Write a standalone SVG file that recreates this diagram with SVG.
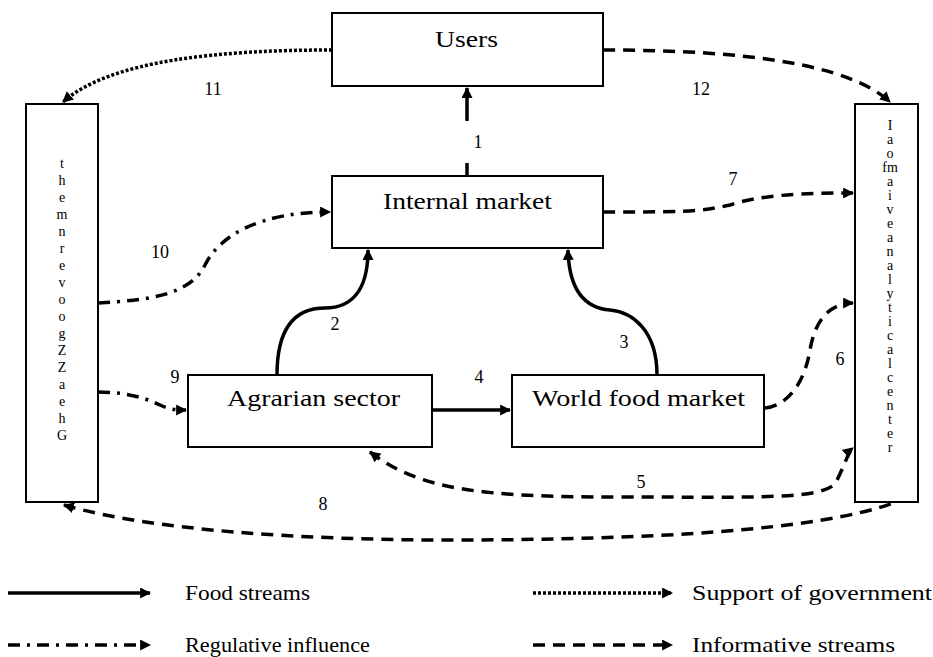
<svg xmlns="http://www.w3.org/2000/svg" width="933" height="657" viewBox="0 0 933 657">
<style>
.box{fill:#fff;stroke:#000;stroke-width:2}
.lbl{font-family:"Liberation Serif","Times New Roman",serif;font-size:24px;fill:#000}
.num{font-family:"Liberation Serif","Times New Roman",serif;font-size:18px;fill:#000;text-anchor:middle}
.vt{font-family:"Liberation Serif","Times New Roman",serif;font-size:14px;fill:#000;text-anchor:middle}
.leg{font-family:"Liberation Serif","Times New Roman",serif;font-size:21px;fill:#000}
.c{fill:none;stroke:#000;stroke-width:3.5}
.food{}
.info{stroke-dasharray:12 8}
.reg{stroke-dasharray:12 7 3 7}
.supp{stroke-dasharray:3 2}
</style>
<defs>
<marker id="ah" viewBox="0 0 10 10" refX="9" refY="5" markerWidth="11" markerHeight="11" markerUnits="userSpaceOnUse" orient="auto-start-reverse">
<path d="M0,0 L10,5 L0,10 z" fill="#000"/>
</marker>
</defs>

<g id="connectors">
<path class="c food" d="M467,176 V163 M467,121 V88" marker-end="url(#ah)"/>
<path class="c food" d="M277,375 C277,322 300,308 325,308 C352,308 368,290 368,250" marker-end="url(#ah)"/>
<path class="c food" d="M657,375 C657,330 632,312 610,310 C585,308 569,290 568,250" marker-end="url(#ah)"/>
<path class="c food" d="M432,410 H510" marker-end="url(#ah)"/>
<path class="c info" d="M370,452 C420,490 480,497 620,497 C760,497 825,500 836,482 C845,465 848,452 853,448" marker-start="url(#ah)" marker-end="url(#ah)"/>
<path class="c info" d="M765,408 C790,405 805,380 810,350 C815,320 830,303 853,303" marker-end="url(#ah)"/>
<path class="c info" d="M603,212 C680,212 700,212 730,205 C760,195 800,193 853,193" marker-end="url(#ah)"/>
<path class="c info" d="M64,505 C150,530 300,540 450,540 C650,540 820,530 893,503" marker-start="url(#ah)"/>
<path class="c reg" d="M98,392 C130,392 150,400 160,405 C170,410 178,410 186,410" marker-end="url(#ah)"/>
<path class="c reg" d="M98,303 C150,300 190,295 205,265 C220,235 260,212 330,212" marker-end="url(#ah)"/>
<path class="c supp" d="M332,50 C220,50 110,60 63,102" marker-end="url(#ah)"/>
<path class="c info" d="M603,50 C750,50 850,65 890,102" marker-end="url(#ah)"/>
</g>

<g id="users">
<rect class="box" x="332" y="13" width="271" height="73"/>
<text class="lbl" x="435" y="47" textLength="63" lengthAdjust="spacingAndGlyphs">Users</text>
</g>
<g id="internal-market">
<rect class="box" x="332" y="176" width="271" height="72"/>
<text class="lbl" x="383" y="209" textLength="169" lengthAdjust="spacingAndGlyphs">Internal market</text>
</g>
<g id="agrarian-sector">
<rect class="box" x="188" y="375" width="244" height="72"/>
<text class="lbl" x="227" y="406" textLength="173" lengthAdjust="spacingAndGlyphs">Agrarian sector</text>
</g>
<g id="world-food-market">
<rect class="box" x="512" y="375" width="252" height="72"/>
<text class="lbl" x="532" y="406" textLength="213" lengthAdjust="spacingAndGlyphs">World food market</text>
</g>
<g id="government">
<rect class="box" x="26" y="104" width="72" height="398"/>
<text class="vt"><tspan x="62" y="168">t</tspan><tspan x="62" y="185">h</tspan><tspan x="62" y="202">e</tspan><tspan x="62" y="219">m</tspan><tspan x="62" y="236">n</tspan><tspan x="62" y="253">r</tspan><tspan x="62" y="270">e</tspan><tspan x="62" y="287">v</tspan><tspan x="62" y="304">o</tspan><tspan x="62" y="321">o</tspan><tspan x="62" y="338">g</tspan><tspan x="62" y="355">Z</tspan><tspan x="62" y="372">Z</tspan><tspan x="62" y="389">a</tspan><tspan x="62" y="406">e</tspan><tspan x="62" y="423">h</tspan><tspan x="62" y="440">G</tspan></text>
</g>
<g id="info-center">
<rect class="box" x="855" y="104" width="63" height="398"/>
<text class="vt"><tspan x="890" y="130">I</tspan><tspan x="890" y="144">a</tspan><tspan x="890" y="158">o</tspan><tspan x="890" y="172">fm</tspan><tspan x="890" y="186">a</tspan><tspan x="890" y="200">i</tspan><tspan x="890" y="214">v</tspan><tspan x="890" y="228">e</tspan><tspan x="890" y="242">a</tspan><tspan x="890" y="256">n</tspan><tspan x="890" y="270">a</tspan><tspan x="890" y="284">l</tspan><tspan x="890" y="298">y</tspan><tspan x="890" y="312">t</tspan><tspan x="890" y="326">i</tspan><tspan x="890" y="340">c</tspan><tspan x="890" y="354">a</tspan><tspan x="890" y="368">l</tspan><tspan x="890" y="382">c</tspan><tspan x="890" y="396">e</tspan><tspan x="890" y="410">n</tspan><tspan x="890" y="424">t</tspan><tspan x="890" y="438">e</tspan><tspan x="890" y="452">r</tspan></text>
</g>

<g id="numbers">
<text class="num" x="478" y="148">1</text>
<text class="num" x="335" y="330">2</text>
<text class="num" x="624" y="348">3</text>
<text class="num" x="479" y="383">4</text>
<text class="num" x="641" y="488">5</text>
<text class="num" x="840" y="365">6</text>
<text class="num" x="733" y="185">7</text>
<text class="num" x="323" y="510">8</text>
<text class="num" x="175" y="383">9</text>
<text class="num" x="160" y="258">10</text>
<text class="num" x="213" y="95">11</text>
<text class="num" x="701" y="95">12</text>
</g>

<g id="legend">
<line class="c food" x1="8" y1="593" x2="150" y2="593" marker-end="url(#ah)"/>
<text class="leg" x="185" y="600" textLength="125" lengthAdjust="spacingAndGlyphs">Food streams</text>
<line class="c supp" x1="533" y1="593" x2="672" y2="593" marker-end="url(#ah)"/>
<text class="leg" x="692" y="600" textLength="240" lengthAdjust="spacingAndGlyphs">Support of government</text>
<line class="c reg" x1="8" y1="645" x2="150" y2="645" marker-end="url(#ah)"/>
<text class="leg" x="185" y="652" textLength="185" lengthAdjust="spacingAndGlyphs">Regulative influence</text>
<line class="c info" x1="533" y1="645" x2="672" y2="645" marker-end="url(#ah)"/>
<text class="leg" x="692" y="652" textLength="203" lengthAdjust="spacingAndGlyphs">Informative streams</text>
</g>
</svg>
